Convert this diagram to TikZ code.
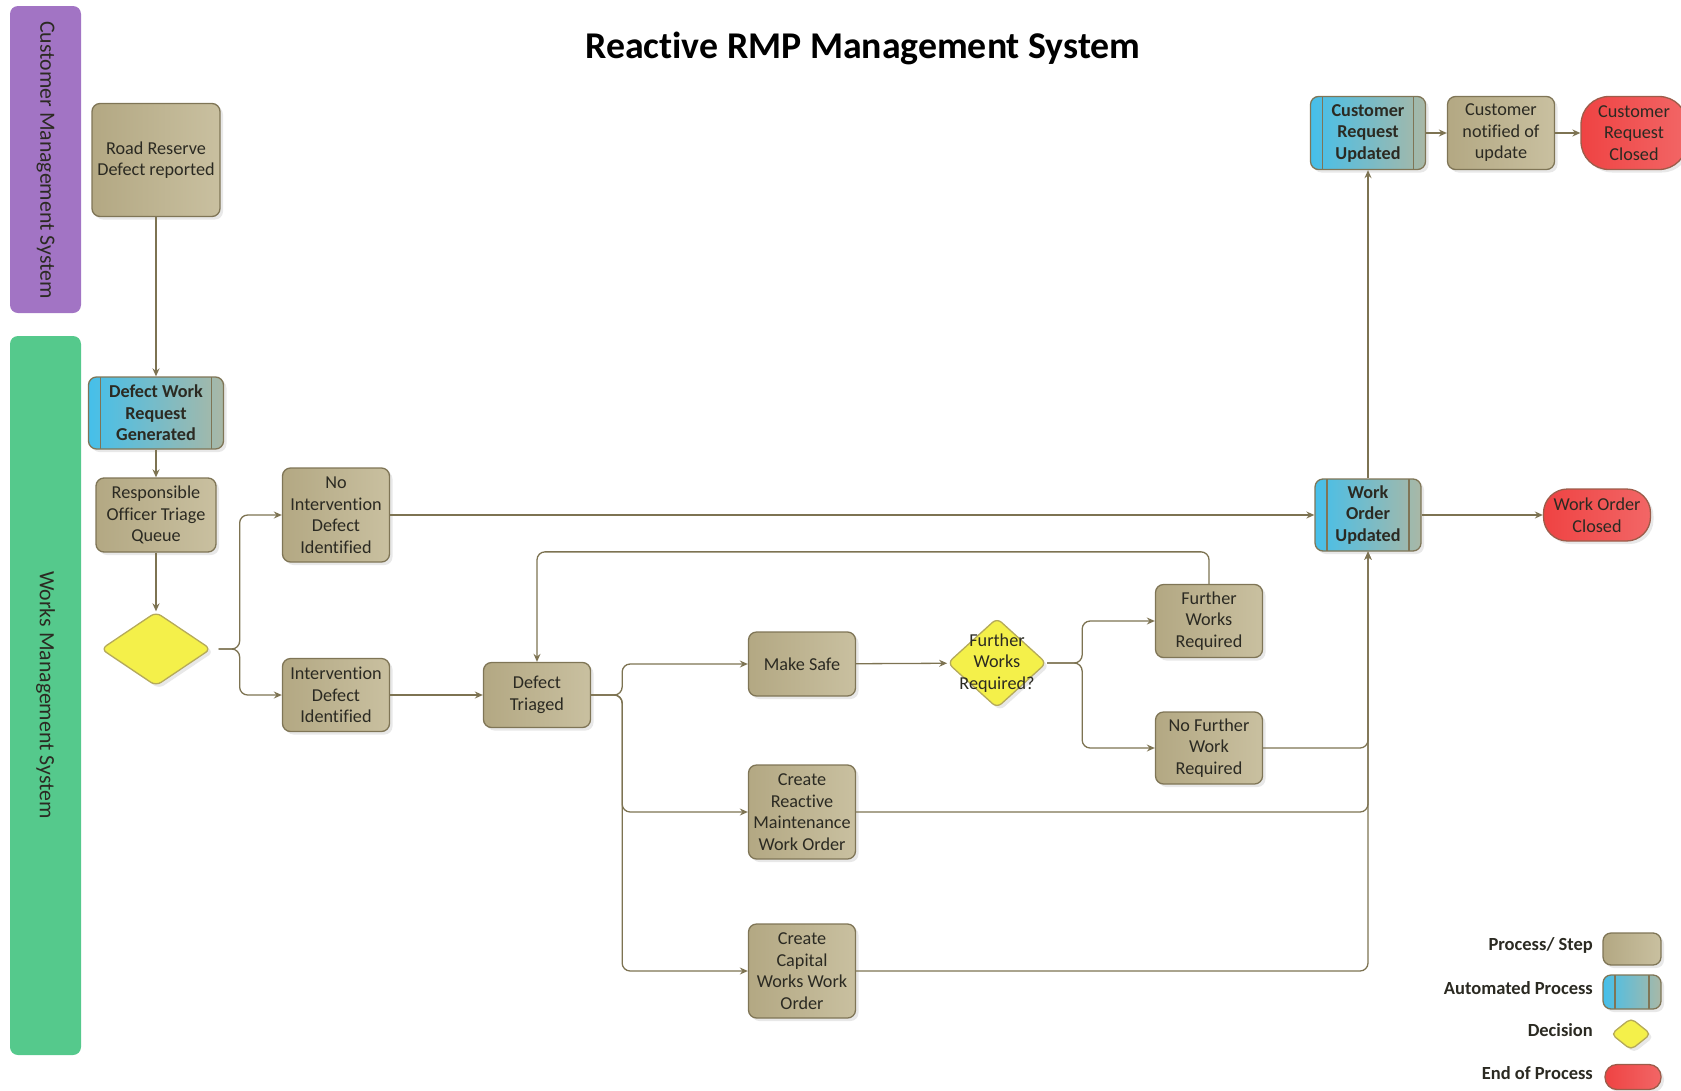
\documentclass[tikz,border=0pt]{standalone}
\usepackage{fontspec}
\setmainfont{Carlito}[Ligatures={NoCommon,NoRare}]
\usetikzlibrary{shapes.geometric,shadows,arrows.meta,calc}
\definecolor{tanF}{HTML}{B3A883}
\definecolor{tanL}{HTML}{C9C0A0}
\definecolor{tanD}{HTML}{7F7556}
\definecolor{lineC}{HTML}{7D7352}
\definecolor{blueF}{HTML}{45BFEA}
\definecolor{blueR}{HTML}{A9B8A6}
\definecolor{redF}{HTML}{EF4343}
\definecolor{redL}{HTML}{F26666}
\definecolor{redD}{HTML}{9C5C4A}
\definecolor{yelF}{HTML}{F4F04A}
\definecolor{yelD}{HTML}{B5AA5A}
\definecolor{purp}{HTML}{A274C4}
\definecolor{grn}{HTML}{55C98C}
\definecolor{txtC}{HTML}{2B2A22}
\tikzset{
  base/.style={draw=tanD, line width=1.3pt, text=txtC, align=center, inner sep=2pt,
    font=\fontsize{18.2}{21.5}\selectfont,
    drop shadow={opacity=0.18, shadow xshift=3pt, shadow yshift=-3pt}},
  proc/.style={base, rounded corners=8pt, left color=tanF, right color=tanL},
  autobox/.style={base, rounded corners=8pt, left color=blueF, right color=blueR,
    font=\bfseries\fontsize{18.2}{21.5}\selectfont,
    path picture={
      \draw[tanD, line width=1.3pt] ($(path picture bounding box.north west)+(12,0)$) -- ($(path picture bounding box.south west)+(12,0)$);
      \draw[tanD, line width=1.3pt] ($(path picture bounding box.north east)+(-12,0)$) -- ($(path picture bounding box.south east)+(-12,0)$);}},
  endbox/.style={base, draw=redD, left color=redF, right color=redL},
  decis/.style={base, diamond, draw=yelD, fill=yelF, rounded corners=6pt, inner sep=0pt},
  lane/.style={rounded corners=8pt, draw=none},
  lanetxt/.style={rotate=-90, text=txtC, font=\fontsize{21.8}{25}\selectfont},
  legtxt/.style={anchor=east, inner sep=0pt, text=txtC, font=\bfseries\fontsize{18.5}{21}\selectfont},
  conn/.style={draw=lineC, line width=1.3pt, -{Stealth[length=8pt,width=7pt]}, rounded corners=8pt},
}
\begin{document}
\begin{tikzpicture}[x=1pt,y=-1pt]
\useasboundingbox (0,0) rectangle (1681,1090);
% lanes
\node[lane, fill=purp, minimum width=71, minimum height=307] (lc) at (45.5,159.5) {};
\node[lanetxt] (lct) at (45.5,160) {Customer Management System};
\node[lane, fill=grn, minimum width=71, minimum height=719] (lw) at (45.5,695.5) {};
\node[lanetxt] (lwt) at (45.5,695) {Works Management System};
% title
\node[font=\bfseries\fontsize{37.8}{42}\selectfont, text=black] (title) at (863,48) {Reactive RMP Management System};
% nodes
\node[proc, minimum width=128, minimum height=113] (rr) at (156,160) {Road Reserve\\Defect reported};
\node[autobox, minimum width=135, minimum height=72] (dwr) at (156,413) {Defect Work\\Request\\Generated};
\node[proc, minimum width=120, minimum height=74] (rot) at (156,515) {Responsible\\Officer Triage\\Queue};
\node[decis, minimum width=110, minimum height=74] (dec1) at (156,649) {};
\node[proc, minimum width=107, minimum height=94] (noi) at (336,515) {No\\Intervention\\Defect\\Identified};
\node[proc, minimum width=107, minimum height=73] (int) at (336,695) {Intervention\\Defect\\Identified};
\node[proc, minimum width=107, minimum height=65] (dt) at (537,695) {Defect\\Triaged};
\node[proc, minimum width=107, minimum height=64] (ms) at (802,664) {Make Safe};
\node[proc, minimum width=107, minimum height=94] (crm) at (802,812) {Create\\Reactive\\Maintenance\\Work Order};
\node[proc, minimum width=107, minimum height=94] (ccw) at (802,971) {Create\\Capital\\Works Work\\Order};
\node[decis, minimum width=99, minimum height=90] (fwq) at (997,663) {};
\node[text=txtC, align=center, font=\fontsize{18.2}{21.5}\selectfont] (fwqt) at (fwq) {Further\\Works\\Required?};
\node[proc, minimum width=107, minimum height=73] (fwr) at (1209,621) {Further\\Works\\Required};
\node[proc, minimum width=107, minimum height=72] (nfw) at (1209,748) {No Further\\Work\\Required};
\node[autobox, minimum width=106, minimum height=72] (wou) at (1368,515) {Work\\Order\\Updated};
\node[endbox, rounded corners=24pt, minimum width=107, minimum height=52] (woc) at (1597,515) {Work Order\\Closed};
\node[autobox, minimum width=115, minimum height=73] (cru) at (1368,133) {Customer\\Request\\Updated};
\node[proc, minimum width=107, minimum height=73] (cnu) at (1501,133) {Customer\\notified of\\update};
\node[endbox, rounded corners=28pt, minimum width=106, minimum height=73] (crc) at (1634,133) {Customer\\Request\\Closed};
% connectors
\draw[conn] (rr) -- (dwr);
\draw[conn] (dwr) -- (rot);
\draw[conn] (rot) -- (dec1);
\draw[conn, shorten <=7pt] (dec1.east) -- ++(28,0) |- (noi.west);
\draw[conn, shorten <=7pt] (dec1.east) -- ++(28,0) |- (int.west);
\draw[conn] (noi) -- (wou);
\draw[conn] (int) -- (dt);
\draw[conn] (dt.east) -- ++(31,0) |- (ms.west);
\draw[conn] (dt.east) -- ++(31,0) |- (crm.west);
\draw[conn] (dt.east) -- ++(31,0) |- (ccw.west);
\draw[conn] (ms) -- (fwq);
\draw[conn] (fwq.east) -- ++(35,0) |- (fwr.west);
\draw[conn] (fwq.east) -- ++(35,0) |- (nfw.west);
\draw[conn] (fwr.north) -- ++(0,-32) -| (dt.north);
\draw[conn] (nfw.east) -| (wou.south);
\draw[conn] (crm.east) -| (wou.south);
\draw[conn] (ccw.east) -| (wou.south);
\draw[conn] (wou) -- (woc);
\draw[conn] (wou) -- (cru);
\draw[conn] (cru) -- (cnu);
\draw[conn] (cnu) -- (crc);
% legend
\node[legtxt] (l1) at (1593,945) {Process/ Step};
\node[legtxt] (l2) at (1593,988) {Automated Process};
\node[legtxt] (l3) at (1593,1030) {Decision};
\node[legtxt] (l4) at (1593,1073) {End of Process};
\node[proc, minimum width=58, minimum height=32] (lp) at (1632,949) {};
\node[autobox, minimum width=58, minimum height=34] (la) at (1632,992) {};
\node[decis, minimum width=40, minimum height=32, rounded corners=5pt] (ld) at (1631,1034) {};
\node[endbox, rounded corners=12pt, minimum width=56, minimum height=25] (le) at (1633,1077) {};
\end{tikzpicture}
\end{document}
